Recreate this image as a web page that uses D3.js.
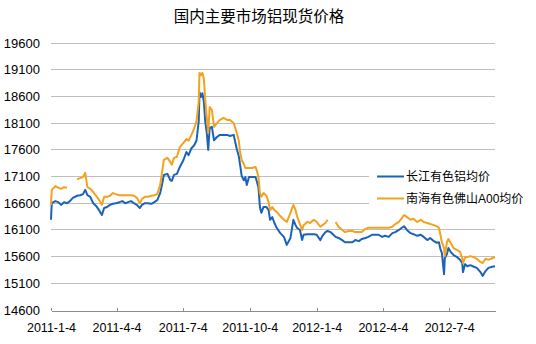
<!DOCTYPE html>
<html>
<head>
<meta charset="utf-8">
<script src="https://cdn.jsdelivr.net/npm/d3@7"></script>
<style>
  html, body { margin: 0; padding: 0; background: #fff; }
  svg { display: block; }
  text { font-family: "Liberation Sans", Arial, "Noto Sans CJK SC", sans-serif; fill: #000; }
</style>
</head>
<body>
<svg id="chart" width="536" height="344"></svg>
<script>
const title = "国内主要市场铝现货价格";
const seriesNames = ["长江有色铝均价", "南海有色佛山A00均价"];
const yTicks = [14600, 15100, 15600, 16100, 16600, 17100, 17600, 18100, 18600, 19100, 19600];
const xTickLabels = ["2011-1-4", "2011-4-4", "2011-7-4", "2011-10-4", "2012-1-4", "2012-4-4", "2012-7-4"];

const dates = [
  "2011-01-04","2011-01-05","2011-01-10","2011-01-14","2011-01-18","2011-01-22","2011-01-26","2011-01-30",
  "2011-02-03","2011-02-09","2011-02-13","2011-02-17","2011-02-20","2011-02-23","2011-02-27","2011-03-03",
  "2011-03-07","2011-03-11","2011-03-15","2011-03-18","2011-03-22","2011-03-26","2011-03-30","2011-04-03",
  "2011-04-08","2011-04-12","2011-04-16","2011-04-20","2011-04-24","2011-04-28","2011-05-02","2011-05-06",
  "2011-05-09","2011-05-13","2011-05-17","2011-05-22","2011-05-26","2011-05-30","2011-06-03","2011-06-06",
  "2011-06-08","2011-06-13","2011-06-17","2011-06-19","2011-06-22","2011-06-26","2011-06-30","2011-07-05",
  "2011-07-09","2011-07-12","2011-07-16","2011-07-20","2011-07-23","2011-07-26","2011-07-27","2011-07-29",
  "2011-07-31","2011-08-02","2011-08-04","2011-08-06","2011-08-08","2011-08-10","2011-08-13","2011-08-16",
  "2011-08-20","2011-08-24","2011-08-29","2011-09-03","2011-09-07","2011-09-12","2011-09-16","2011-09-19",
  "2011-09-21","2011-09-23","2011-09-26","2011-09-28","2011-09-30","2011-10-03","2011-10-07","2011-10-12",
  "2011-10-14","2011-10-16","2011-10-18","2011-10-20","2011-10-23","2011-10-27","2011-10-30","2011-11-01",
  "2011-11-04","2011-11-07","2011-11-10","2011-11-15","2011-11-20","2011-11-24","2011-11-29","2011-12-03",
  "2011-12-06","2011-12-08","2011-12-12","2011-12-15","2011-12-17","2011-12-22","2011-12-26","2011-12-31",
  "2012-01-04","2012-01-09","2012-01-12","2012-01-16","2012-01-19","2012-01-23","2012-01-27","2012-01-30",
  "2012-02-03","2012-02-08","2012-02-12","2012-02-17","2012-02-22","2012-02-26","2012-03-02","2012-03-06",
  "2012-03-11","2012-03-15","2012-03-20","2012-03-25","2012-03-29","2012-04-03","2012-04-07","2012-04-12",
  "2012-04-17","2012-04-21","2012-04-26","2012-04-30","2012-05-03","2012-05-07","2012-05-12","2012-05-16",
  "2012-05-21","2012-05-26","2012-05-30","2012-06-04","2012-06-08","2012-06-13","2012-06-17","2012-06-20",
  "2012-06-22","2012-06-24","2012-06-27","2012-06-28","2012-07-01","2012-07-03","2012-07-06","2012-07-10",
  "2012-07-15","2012-07-19","2012-07-22","2012-07-23","2012-07-26","2012-07-29","2012-08-02","2012-08-07",
  "2012-08-11","2012-08-16","2012-08-19","2012-08-23","2012-08-27","2012-09-01","2012-09-05"
];

const changjiang = [
  16280,16590,16630,16610,16560,16610,16590,16630,
  16690,16730,16740,16760,16840,16740,16710,16590,
  16540,16460,16370,16500,16520,16560,16580,16590,
  16610,16630,16590,16610,16630,16590,16560,16500,
  16560,16590,16590,16580,16610,16650,16780,16970,
  17120,17140,17020,17010,17120,17140,17270,17400,
  17550,17490,17620,17680,17770,18130,18670,18580,
  18650,18490,18110,17910,17590,18000,18020,17770,
  17830,17870,17870,17870,17850,17870,17620,17470,
  17290,17100,17020,17080,16930,17080,17080,17080,
  16990,16890,16520,16410,16520,16520,16460,16280,
  16330,16220,16130,16030,15960,15810,15940,16280,
  16180,16130,16090,15900,16000,16010,16010,16010,
  16000,15900,15980,16050,16070,16050,16000,15960,
  15940,15900,15860,15860,15860,15900,15880,15920,
  15940,15960,16000,16000,16000,15960,15980,15960,
  16030,16050,16090,16130,16160,16090,16030,16010,
  15980,16000,15960,15900,15940,15880,15850,15860,
  15730,15660,15260,15560,15640,15750,15680,15620,
  15580,15530,15470,15300,15450,15410,15430,15400,
  15380,15300,15230,15320,15380,15400,15410
];

const nanhai = [
  16560,16840,16910,16880,16860,16890,16880,null,
  null,17040,17060,17080,17160,16890,16860,16800,
  16730,16650,16560,16710,16710,16730,16780,16760,
  16740,16740,16740,16740,16740,16730,16690,16590,
  16670,16710,16710,16730,16740,16760,16930,17210,
  17400,17440,17360,17310,17440,17460,17640,17720,
  17790,17760,17870,18000,18130,18500,19030,18990,
  19030,18920,18520,18200,17910,18390,18340,18020,
  18090,18150,18190,18150,18150,18090,17920,17760,
  17530,17400,17320,17250,17250,17250,17250,17270,
  17190,17080,16780,16710,16780,16730,16610,16460,
  16520,16460,16430,16350,16280,16240,16410,16560,
  16460,16350,16200,16090,16180,16240,16220,16280,
  16240,16150,16180,16220,16280,null,null,16240,
  16150,16090,16050,16070,16070,16050,16050,16050,
  16110,16130,16130,16130,16130,16130,16130,16130,
  16150,16200,16240,16310,16370,16330,16280,16300,
  16240,16280,16240,16220,16200,16180,16160,16130,
  16000,15860,15750,15600,15860,15920,15850,15750,
  15710,15680,15560,15470,15580,15580,15600,15580,
  15550,15490,15470,15550,15530,15560,15580
];

const colors = ["#1A63B9", "#F3A21E"];

const parse = d3.timeParse("%Y-%m-%d");
const dateObjs = dates.map(parse);
const svg = d3.select("#chart");

const x = d3.scaleTime()
  .domain([dateObjs[0], dateObjs[dateObjs.length - 1]])
  .range([51, 495]);
const y = d3.scaleLinear()
  .domain([14600, 19600])
  .range([309.5, 42.5]);

// title
svg.append("text")
  .attr("x", 259).attr("y", 22)
  .attr("text-anchor", "middle")
  .style("font-size", "15.5px")
  .text(title);

// gridlines
svg.append("g").selectAll("line")
  .data(yTicks.filter(t => t !== 14600))
  .join("line")
  .attr("x1", 51).attr("x2", 495)
  .attr("y1", d => Math.round(y(d)) + 0.5)
  .attr("y2", d => Math.round(y(d)) + 0.5)
  .attr("stroke", "#bfbfbf")
  .attr("stroke-width", 1);

// y labels
svg.append("g").selectAll("text")
  .data(yTicks)
  .join("text")
  .attr("x", 40)
  .attr("y", d => Math.round(y(d)) + 0.5)
  .attr("dy", "0.36em")
  .attr("text-anchor", "end")
  .style("font-size", "13px")
  .text(d => d);

// x axis
const xTickDates = xTickLabels.map(s => d3.timeParse("%Y-%m-%d")(s.split("-").map((p, i) => i === 0 ? p : p.padStart(2, "0")).join("-")));
const xAxis = d3.axisBottom(x)
  .tickValues(xTickDates)
  .tickSize(-3)
  .tickSizeOuter(0)
  .tickFormat((d, i) => xTickLabels[i]);
const gx = svg.append("g")
  .attr("transform", "translate(0," + (Math.round(y(14600)) + 0.5) + ")")
  .call(xAxis);
gx.select(".domain").attr("stroke", "#8c8c8c").attr("shape-rendering", "crispEdges");
gx.selectAll(".tick line").attr("stroke", "#8c8c8c").attr("shape-rendering", "crispEdges");
gx.selectAll(".tick text")
  .attr("y", 13)
  .style("font-size", "12.5px")
  .style("font-family", "'Liberation Sans', Arial, sans-serif")
  .attr("fill", "#000");

// lines
const seriesData = [changjiang, nanhai];
const lineGen = d3.line()
  .defined(d => d.v != null)
  .x(d => x(d.date))
  .y(d => y(d.v));

seriesData.forEach((vals, si) => {
  const pts = vals.map((v, i) => ({ date: dateObjs[i], v: v }));
  svg.append("path")
    .datum(pts)
    .attr("fill", "none")
    .attr("stroke", colors[si])
    .attr("stroke-width", 2)
    .attr("stroke-linejoin", "round")
    .attr("d", lineGen);
});

// legend
const lg = svg.append("g");
lg.append("rect")
  .attr("x", 369).attr("y", 162).attr("width", 160).attr("height", 50)
  .attr("fill", "#fff");
seriesNames.forEach((name, i) => {
  const ly = 176.5 + i * 22;
  lg.append("line")
    .attr("x1", 377).attr("x2", 404)
    .attr("y1", ly).attr("y2", ly)
    .attr("stroke", colors[i]).attr("stroke-width", 2);
  lg.append("text")
    .attr("x", 406).attr("y", ly)
    .attr("dy", "0.36em")
    .style("font-size", "12px")
    .text(name);
});
</script>
</body>
</html>
